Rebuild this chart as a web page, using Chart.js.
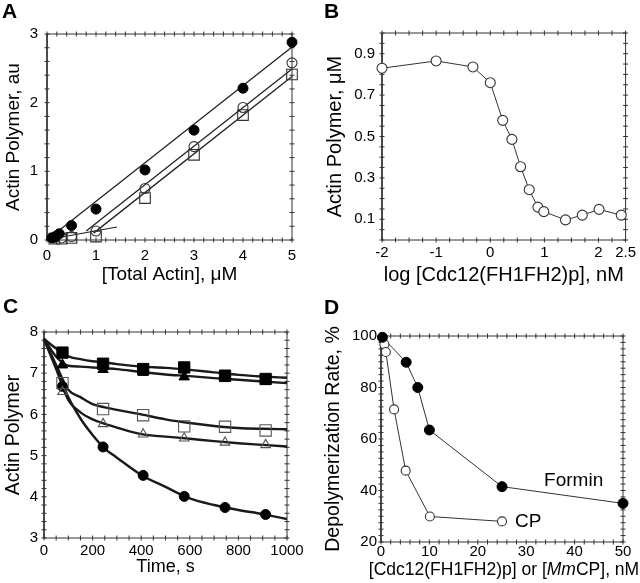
<!DOCTYPE html>
<html>
<head>
<meta charset="utf-8">
<script src="https://cdn.jsdelivr.net/npm/chart.js@4.4.0/dist/chart.umd.min.js"></script>
<style>
    body { margin: 0; background: #fff; }
    #page { position: relative; width: 640px; height: 583px; font-family: 'Liberation Sans', Arial, sans-serif; color: #000; }
    canvas { position: absolute; }
    .letter { position: absolute; font-weight: bold; font-size: 21px; line-height: 21px; }
    .xtitle { position: absolute; font-size: 17.5px; line-height: 20px; white-space: nowrap; transform: translateX(-50%); }
</style>
</head>
<body>
<div id="page">
    <canvas id="chartA" width="320" height="290" style="left:0;top:0"></canvas>
    <canvas id="chartB" width="320" height="290" style="left:320px;top:0"></canvas>
    <canvas id="chartC" width="320" height="293" style="left:0;top:290px"></canvas>
    <canvas id="chartD" width="320" height="293" style="left:320px;top:290px"></canvas>
    <div class="letter" style="left:2px;top:0px">A</div>
    <div class="letter" style="left:324px;top:0px">B</div>
    <div class="letter" style="left:3px;top:295px">C</div>
    <div class="letter" style="left:324px;top:296px">D</div>
    <div class="xtitle" style="left:504px;top:559px">[Cdc12(FH1FH2)p] or [<i>Mm</i>CP], nM</div>
</div>
<script>
const FONT = "'Liberation Sans', Arial, sans-serif";

// Panel A - steady state polymer vs total actin
const actinFilledA = [0.1, 0.17, 0.25, 0.5, 1, 2, 3, 4, 5];
const polymerFilledA = [0.03, 0.05, 0.09, 0.21, 0.45, 1.02, 1.6, 2.21, 2.88];
const actinOpenA = [0.15, 0.3, 0.5, 1, 2, 3, 4, 5];
const polymerCircleA = [0.03, 0.03, 0.05, 0.13, 0.75, 1.36, 1.93, 2.58];
const polymerSquareA = [0.02, 0.02, 0.03, 0.05, 0.61, 1.24, 1.82, 2.41];
const fitFilledX = [0.05, 5];
const fitFilledY = [0.03, 2.81];
const fitCircleX = [0.8, 5];
const fitCircleY = [0.13, 2.49];
const fitSquareX = [0.95, 5];
const fitSquareY = [0.1, 2.38];
const fitBaseX = [0.05, 1.43];
const fitBaseY = [0.01, 0.19];
const xTicksA = [0, 1, 2, 3, 4, 5];
const yTicksA = [0, 1, 2, 3];

// Panel B - polymer vs log formin
const logFormin = [-2, -1, -0.32, 0, 0.23, 0.4, 0.56, 0.72, 0.88, 0.99, 1.39, 1.7, 2.01, 2.42];
const polymerB = [0.83, 0.865, 0.836, 0.76, 0.578, 0.486, 0.354, 0.243, 0.159, 0.137, 0.097, 0.12, 0.148, 0.12];
const xTicksB = [-2, -1, 0, 1, 2, 2.5];
const yTicksB = [0.1, 0.3, 0.5, 0.7, 0.9];

// Panel C - depolymerization time courses
const traceTime = [0, 50, 100, 150, 200, 250, 300, 400, 500, 600, 700, 800, 900, 1000];
const traceFilledSquare = [7.83, 7.6, 7.41, 7.34, 7.29, 7.26, 7.22, 7.16, 7.13, 7.08, 7.02, 6.96, 6.92, 6.89];
const traceFilledTriangle = [7.83, 7.4, 7.18, 7.16, 7.14, 7.12, 7.1, 7.03, 6.97, 6.93, 6.88, 6.84, 6.8, 6.76];
const traceOpenSquare = [7.83, 7.2, 6.6, 6.42, 6.25, 6.17, 6.11, 6.0, 5.88, 5.79, 5.72, 5.67, 5.65, 5.64];
const traceOpenTriangle = [7.83, 7.1, 6.35, 6.05, 5.88, 5.77, 5.68, 5.52, 5.46, 5.41, 5.35, 5.3, 5.26, 5.22];
const traceFilledCircle = [7.83, 7.15, 6.42, 5.9, 5.5, 5.17, 4.95, 4.53, 4.24, 3.96, 3.8, 3.68, 3.58, 3.46];
const markerTime = [76, 243, 408, 577, 745, 912];
const markFilledSquare = [7.5, 7.23, 7.1, 7.14, 6.94, 6.86];
const markFilledTriangle = [7.2, 7.09, 7.02, 6.91, 6.87, 6.8];
const markOpenSquare = [6.76, 6.13, 5.98, 5.71, 5.7, 5.61];
const markOpenTriangle = [6.55, 5.77, 5.52, 5.42, 5.32, 5.26];
const markFilledCircle = [6.68, 5.21, 4.52, 4.01, 3.74, 3.57];
const xTicksC = [0, 200, 400, 600, 800, 1000];
const yTicksC = [3, 4, 5, 6, 7, 8];

// Panel D - depolymerization rate vs concentration
const forminConc = [0.3, 5.2, 7.6, 10, 25, 50];
const forminRate = [99.5, 89.8, 80, 63.5, 41.5, 35];
const cpConc = [0.7, 1, 2.7, 5.1, 10.1, 25];
const cpRate = [96.8, 93.8, 71.5, 47.7, 29.9, 28];
const xTicksD = [0, 10, 20, 30, 40, 50];
const yTicksD = [20, 40, 60, 80, 100];
const labelsD = [
    { text: 'Formin', x: 33.7, y: 41.8 },
    { text: 'CP', x: 27.7, y: 25.9 }
];

function pts(xs, ys) {
    return xs.map((x, i) => ({ x: x, y: ys[i] }));
}

function stepValues(min, max, step) {
    const out = [];
    const n = Math.round((max - min) / step);
    for (let i = 0; i <= n; i++) out.push(min + i * step);
    return out;
}

function labelFor(v, majors) {
    const m = majors.find(k => Math.abs(k - v) < 1e-6);
    return m === undefined ? '' : String(m);
}

// series name labels written inside the plot
function textPlugin(labels) {
    return {
        id: 'seriesText',
        afterDatasetsDraw(chart) {
            if (!labels) return;
            const ctx = chart.ctx;
            ctx.save();
            ctx.fillStyle = '#000';
            ctx.font = '19px ' + FONT;
            ctx.textBaseline = 'alphabetic';
            labels.forEach(lb => {
                ctx.fillText(lb.text, chart.scales.x.getPixelForValue(lb.x), chart.scales.y.getPixelForValue(lb.y));
            });
            ctx.restore();
        }
    };
}

// box and tick marks, drawn as datasets on the axis ranges
function frameDatasets(xo, yo) {
    const box = [
        { x: xo.min, y: yo.min }, { x: xo.max, y: yo.min }, { x: xo.max, y: yo.max },
        { x: xo.min, y: yo.max }, { x: xo.min, y: yo.min }
    ];
    const xs = stepValues(xo.min, xo.max, xo.minor);
    const ys = stepValues(yo.min, yo.max, yo.minor);
    const xTickPts = xs.map(v => ({ x: v, y: yo.min })).concat(xs.map(v => ({ x: v, y: yo.max })));
    const yTickPts = ys.map(v => ({ x: xo.min, y: v })).concat(ys.map(v => ({ x: xo.max, y: v })));
    const tick = (data, rot) => ({
        data: data, showLine: false, pointStyle: 'line', pointRotation: rot, pointRadius: 2.5,
        pointBorderColor: '#333', pointBorderWidth: 1, clip: false, order: 20
    });
    return [
        { data: box, showLine: true, pointRadius: 0, borderColor: '#333', borderWidth: 1, clip: false, order: 20 },
        tick(xTickPts, 90),
        tick(yTickPts, 0)
    ];
}

function axis(p) {
    return {
        type: 'linear',
        min: p.min,
        max: p.max,
        grid: { display: false, drawTicks: false },
        border: { display: false },
        afterBuildTicks: s => { s.ticks = p.ticks.map(v => ({ value: v })); },
        afterFit: s => {
            if (p.height !== undefined) s.height = p.height;
            if (p.width !== undefined) s.width = p.width;
        },
        ticks: {
            autoSkip: false,
            maxRotation: 0,
            padding: p.tickPad,
            color: '#000',
            font: { family: FONT, size: 15 },
            callback: v => labelFor(v, p.ticks)
        },
        title: {
            display: !!p.title,
            text: p.title,
            color: '#000',
            font: { family: FONT, size: p.titleSize || 18 },
            padding: p.titlePad
        }
    };
}

function makeChart(id, datasets, layout, xOpts, yOpts, labels) {
    return new Chart(document.getElementById(id), {
        type: 'scatter',
        data: { datasets: frameDatasets(xOpts, yOpts).concat(datasets) },
        options: {
            responsive: false,
            animation: false,
            devicePixelRatio: 1,
            events: [],
            layout: { padding: { top: layout.top, right: layout.right, left: 0, bottom: 0 } },
            plugins: { legend: { display: false }, tooltip: { enabled: false } },
            scales: { x: axis(xOpts), y: axis(yOpts) }
        },
        plugins: [textPlugin(labels)]
    });
}

function line(data, width, color, extra) {
    return Object.assign({ data: data, showLine: true, pointRadius: 0, borderColor: color, borderWidth: width, clip: false, order: 5 }, extra || {});
}

function marker(data, style, radius, filled, extra) {
    return Object.assign({
        data: data,
        showLine: false,
        pointStyle: style,
        pointRadius: radius,
        pointBorderWidth: filled ? 1 : 1.1,
        pointBackgroundColor: filled ? '#000' : 'rgba(0,0,0,0)',
        pointBorderColor: filled ? '#000' : '#333',
        clip: false,
        order: 1
    }, extra || {});
}

// A
makeChart('chartA', [
    line(pts(fitFilledX, fitFilledY), 1.3, '#222'),
    line(pts(fitCircleX, fitCircleY), 1.3, '#222'),
    line(pts(fitSquareX, fitSquareY), 1.3, '#222'),
    line(pts(fitBaseX, fitBaseY), 1.1, '#222'),
    marker(pts(actinFilledA, polymerFilledA), 'circle', 5, true),
    marker(pts(actinOpenA, polymerCircleA), 'circle', 5, false),
    marker(pts(actinOpenA, polymerSquareA), 'rect', 7.5, false)
], { top: 34, right: 28 },
{ min: 0, max: 5, minor: 0.2, ticks: xTicksA, height: 50, tickPad: 7, title: '[Total Actin], \u03bcM', titleSize: 19, titlePad: { bottom: 4 } },
{ min: 0, max: 3, minor: 0.2, ticks: yTicksA, width: 47, tickPad: 9, title: 'Actin Polymer, au', titleSize: 19, titlePad: { top: 2 } });

// B
makeChart('chartB', [
    line(pts(logFormin, polymerB), 1, '#333'),
    marker(pts(logFormin, polymerB), 'circle', 5, false, { pointBackgroundColor: '#fff' })
], { top: 33, right: 14 },
{ min: -2, max: 2.5, minor: 0.25, ticks: xTicksB, height: 50, tickPad: 4, title: 'log [Cdc12(FH1FH2)p], nM', titleSize: 20, titlePad: { bottom: 3 } },
{ min: 0, max: 1, minor: 0.05, ticks: yTicksB, width: 62, tickPad: 7, title: 'Actin Polymer, \u03bcM', titleSize: 20, titlePad: { top: 3 } });

// C
const traceStyle = { cubicInterpolationMode: 'monotone' };
makeChart('chartC', [
    line(pts(traceTime, traceFilledSquare), 2.4, '#1a1a1a', traceStyle),
    line(pts(traceTime, traceFilledTriangle), 2.4, '#1a1a1a', traceStyle),
    line(pts(traceTime, traceOpenSquare), 2.4, '#1a1a1a', traceStyle),
    line(pts(traceTime, traceOpenTriangle), 2.4, '#1a1a1a', traceStyle),
    line(pts(traceTime, traceFilledCircle), 2.4, '#1a1a1a', traceStyle),
    marker(pts(markerTime, markFilledSquare), 'rect', 8, true),
    marker(pts(markerTime, markFilledTriangle), 'triangle', 6, true),
    marker(pts(markerTime, markOpenSquare), 'rect', 8, false, { pointBorderColor: '#555' }),
    marker(pts(markerTime, markOpenTriangle), 'triangle', 5.5, false, { pointBorderColor: '#555' }),
    marker(pts(markerTime, markFilledCircle), 'circle', 5, true)
], { top: 42, right: 33 },
{ min: 0, max: 1000, minor: 50, ticks: xTicksC, height: 45, tickPad: 4, title: 'Time, s', titleSize: 18, titlePad: { bottom: 5 } },
{ min: 3, max: 8, minor: 0.2, ticks: yTicksC, width: 44, tickPad: 6, title: 'Actin Polymer', titleSize: 19.5, titlePad: { top: 2 } });

// D
makeChart('chartD', [
    line(pts(forminConc, forminRate), 1, '#333'),
    line(pts(cpConc, cpRate), 1, '#333'),
    marker(pts(forminConc, forminRate), 'circle', 5, true),
    marker(pts(cpConc, cpRate), 'circle', 4.5, false, { pointBackgroundColor: '#fff' })
], { top: 46, right: 17 },
{ min: 0, max: 50, minor: 2, ticks: xTicksD, height: 41, tickPad: 1 },
{ min: 20, max: 100, minor: 2.5, ticks: yTicksD, width: 61, tickPad: 4, title: 'Depolymerization Rate, %', titleSize: 19.5, titlePad: { top: 2 } },
labelsD);
</script>
</body>
</html>
